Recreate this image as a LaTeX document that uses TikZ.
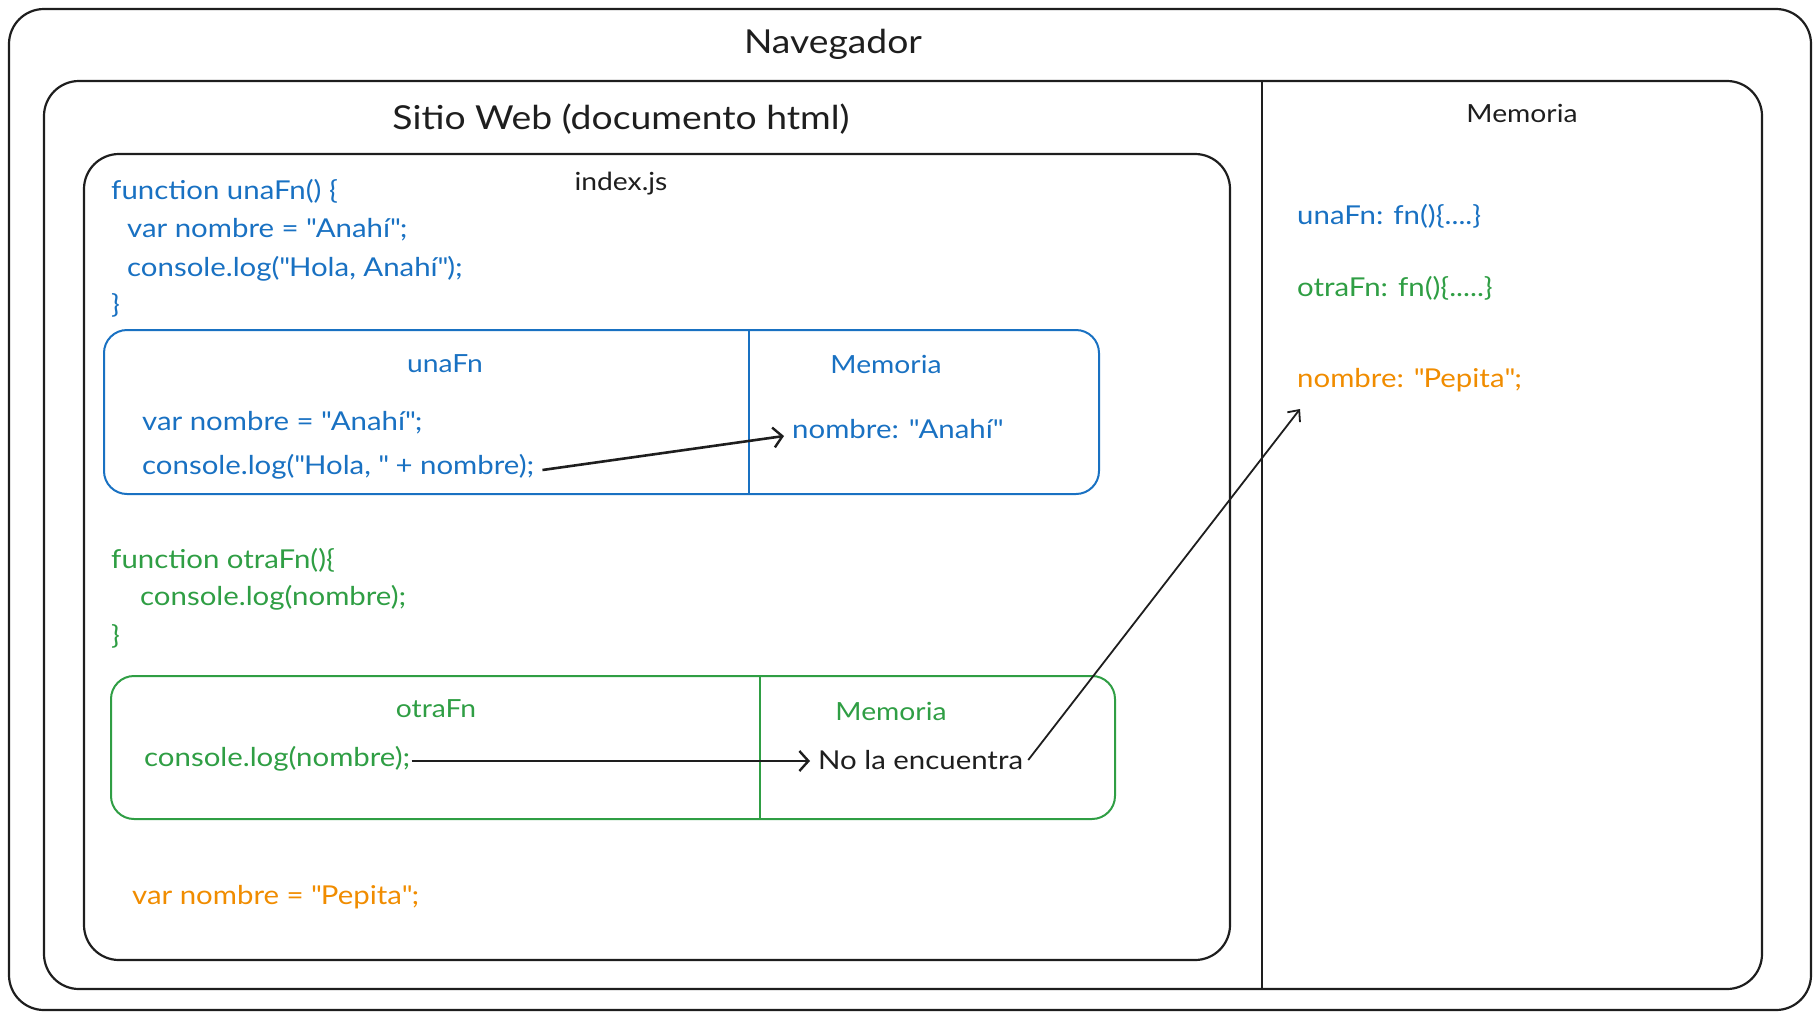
\documentclass[tikz,border=0pt]{standalone}
\usepackage{fontspec}
\setmainfont{Lato}[FakeStretch=1.13]
\usetikzlibrary{arrows.meta}
\definecolor{cblue}{HTML}{1971C2}
\definecolor{cgreen}{HTML}{2F9E44}
\definecolor{corange}{HTML}{F08C00}
\definecolor{cink}{HTML}{1E1E1E}
\newcommand\dq{\textquotedbl}
\begin{document}
\begin{tikzpicture}[x=1pt,y=-1pt,
  frame/.style={draw=cink,line width=2.2pt,rounded corners=35pt},
  title/.style={font=\fontsize{33}{40}\selectfont,text=cink,inner sep=0pt,yshift=-2.5pt},
  lbl/.style={font=\fontsize{25}{30}\selectfont,inner sep=0pt,yshift=-2.5pt},
  code/.style={font=\fontsize{26}{30}\selectfont,inner sep=0pt,anchor=west,yshift=-2.5pt},
  conn/.style={draw=cink,line width=2.6pt,-{Straight Barb[length=9pt,width=20pt,line width=2.4pt]}},
  thin/.style={draw=cink,line width=1.8pt,-{Straight Barb[length=9pt,width=16pt,line width=1.8pt]}}]
\useasboundingbox (0,0) rectangle (1820,1020);
% outer browser
\draw[frame] (9,9) rectangle (1811,1010);
\node[title] (nav) at (833,42) {Navegador};
% site
\draw[frame] (44,81) rectangle (1762,989);
\draw[draw=cink,line width=2.2pt] (1262,81) -- (1262,989);
\node[title] (sitio) at (621,117) {Sitio Web (documento html)};
\node[lbl,text=cink] (memR) at (1522,111) {Memoria};
% index.js
\draw[frame] (84,154) rectangle (1230,960);
\node[lbl,text=cink] (idx) at (621,181) {index.js};
% unaFn code
\node[code,text=cblue] (u1) at (111,189) {function unaFn() \{};
\node[code,text=cblue] (u2) at (127,227) {var nombre = \dq Anahí\dq;};
\node[code,text=cblue] (u3) at (127,266) {console.log(\dq Hola, Anahí\dq);};
\node[code,text=cblue] (u4) at (111,303) {\}};
% unaFn box
\draw[draw=cblue,line width=2pt,rounded corners=23pt] (104,330) rectangle (1099,494);
\draw[draw=cblue,line width=2pt] (749,330) -- (749,494);
\node[lbl,text=cblue] (ut) at (445,361) {unaFn};
\node[lbl,text=cblue] (um) at (886,362) {Memoria};
\node[code,text=cblue] (uv) at (142,420) {var nombre = \dq Anahí\dq;};
\node[code,text=cblue] (uc) at (142,464) {console.log(\dq Hola, \dq{} + nombre);};
\node[code,text=cblue] (un) at (792,427) {nombre: \dq Anahí\dq};
\draw[conn] ([xshift=8pt,yshift=-3.5pt]uc.east) -- ([xshift=-8pt,yshift=-6.5pt]un.west);
% otraFn code
\node[code,text=cgreen] (o1) at (111,558) {function otraFn()\{};
\node[code,text=cgreen] (o2) at (140,595) {console.log(nombre);};
\node[code,text=cgreen] (o3) at (111,634) {\}};
% otraFn box
\draw[draw=cgreen,line width=2pt,rounded corners=23pt] (111,676) rectangle (1115,819);
\draw[draw=cgreen,line width=2pt] (760,676) -- (760,819);
\node[lbl,text=cgreen] (ot) at (436,706) {otraFn};
\node[lbl,text=cgreen] (om) at (891,709) {Memoria};
\node[code,text=cgreen] (oc) at (144,756) {console.log(nombre);};
\node[code,text=cink] (nf) at (818,758) {No la encuentra};
\draw[conn] ([xshift=1pt,yshift=-2.5pt]oc.east) -- ([xshift=-8pt,yshift=-0.5pt]nf.west);
% pepita
\node[code,text=corange] (pv) at (132,895) {var nombre = \dq Pepita\dq;};
% right memory
\node[code,text=cblue] (mu) at (1297,214) {unaFn: fn()\{....\}};
\node[code,text=cgreen] (mo) at (1297,286) {otraFn: fn()\{.....\}};
\node[code,text=corange] (mp) at (1297,378) {nombre: \dq Pepita\dq;};
\coordinate (mpTip) at (1300,409);
\draw[thin] ([xshift=5pt,yshift=0.5pt]nf.east) -- (mpTip);
\end{tikzpicture}
\end{document}
